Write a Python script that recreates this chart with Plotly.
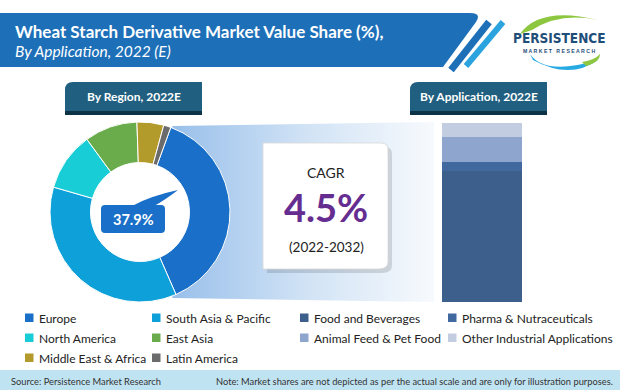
import plotly.graph_objects as go

# ---------------- data ----------------
regions = ["Europe", "South Asia & Pacific", "North America", "East Asia",
           "Middle East & Africa", "Latin America"]
region_share = [37.9, 36.0, 10.5, 9.5, 4.8, 1.3]
region_colors = ["#1a6fc8", "#0ea0d9", "#18cdd6", "#6aac4c", "#b39b2b", "#6b6b6b"]

applications = ["Food and Beverages", "Pharma & Nutraceuticals",
                "Animal Feed & Pet Food", "Other Industrial Applications"]
app_share = [73.2, 5.0, 14.0, 7.8]
app_colors = ["#3d5f8c", "#41699f", "#8ea6cd", "#c3cde2"]

highlight_label = "37.9%"
cagr_value = "4.5%"
cagr_period = "(2022-2032)"

title = "Wheat Starch Derivative Market Value Share (%),"
subtitle = "By Application, 2022 (E)"
source_text = "Source: Persistence Market Research"
note_text = "Note: Market shares are not depicted as per the actual scale and are only for illustration purposes."

# legend grid (row, col) for each entry
legend_items = [
    ("Europe", region_colors[0], 0, 0),
    ("South Asia & Pacific", region_colors[1], 0, 1),
    ("Food and Beverages", app_colors[0], 0, 2),
    ("Pharma & Nutraceuticals", app_colors[1], 0, 3),
    ("North America", region_colors[2], 1, 0),
    ("East Asia", region_colors[3], 1, 1),
    ("Animal Feed & Pet Food", app_colors[2], 1, 2),
    ("Other Industrial Applications", app_colors[3], 1, 3),
    ("Middle East & Africa", region_colors[4], 2, 0),
    ("Latin America", region_colors[5], 2, 1),
]

W, H = 620, 390
FONT = "Lato"

fig = go.Figure()

# background gradient wedge (pixel overlay axes x2/y2)
fig.add_trace(go.Scatter(
    x=[172, 434, 434, 172, 205, 172], y=[126, 122, 302, 298, 212, 126],
    xaxis="x2", yaxis="y2", mode="lines", line=dict(width=0),
    fill="toself",
    fillgradient=dict(type="horizontal",
                      colorscale=[[0, "#98bfea"], [0.5, "#d0e2f5"], [1, "#f7fafd"]]),
    hoverinfo="skip", showlegend=False))

# donut
fig.add_trace(go.Pie(
    labels=regions, values=region_share, sort=False, direction="clockwise",
    rotation=20, hole=0.55, textinfo="none",
    marker=dict(colors=region_colors, line=dict(color="white", width=1)),
    domain=dict(x=[50 / W, 230 / W], y=[(H - 302) / H, (H - 122) / H]),
    showlegend=False, hoverinfo="label+percent"))

# stacked bar
for name, val, col in zip(applications, app_share, app_colors):
    fig.add_trace(go.Bar(
        x=["App"], y=[val], name=name, marker=dict(color=col, line=dict(width=0)),
        width=1, showlegend=False, xaxis="x", yaxis="y"))

shapes = []
ann = []

def px_rect(x0, y0, x1, y1, color, layer="above", line=None):
    shapes.append(dict(type="rect", xref="x2", yref="y2", x0=x0, y0=y0, x1=x1, y1=y1,
                       fillcolor=color, line=line or dict(width=0), layer=layer))

def px_path(path, color, layer="above", line=None):
    shapes.append(dict(type="path", xref="x2", yref="y2", path=path,
                       fillcolor=color, line=line or dict(width=0), layer=layer))

def px_line(x0, y0, x1, y1, color, width):
    shapes.append(dict(type="line", xref="x2", yref="y2", x0=x0, y0=y0, x1=x1, y1=y1,
                       line=dict(color=color, width=width), layer="above"))

def text(x, y, s, size, color="#222", bold=False, xanchor="left", family=FONT, italic=False):
    if bold:
        s = "<b>" + s + "</b>"
    if italic:
        s = "<i>" + s + "</i>"
    ann.append(dict(xref="x2", yref="y2", x=x, y=y, text=s, showarrow=False,
                    xanchor=xanchor, yanchor="middle",
                    font=dict(size=size, color=color, family=family)))

# header band with rounded, slanted right end
px_path("M 0 13 L 470 13 Q 482 13 476 22 L 443 67 L 0 67 Z", "#1d6fb8")
# diagonal stripes
px_line(451, 70, 489, 22, "#1d6fb8", 7)
px_line(466, 66, 503, 22, "#2ba3de", 6)
text(13, 31, title, 17, "white", bold=True)
text(13, 51, subtitle, 15.5, "white", italic=True)

# logo
px_path("M 520 34 Q 540 6 598 20 Q 560 12 532 30 Z", "#8dc63f")
px_path("M 530 54 Q 545 76 598 60 Q 570 80 533 60 Z", "#27a9e1")
px_path("M 582 62 Q 595 60 600 54 Q 600 62 586 66 Z", "#8dc63f")
text(559, 38, "<b>PERSISTENCE</b>", 13.5, "#1f4e79", family="DejaVu Sans Condensed, Liberation Sans",
     xanchor="center")
text(559, 51, "<b>M A R K E T   R E S E A R C H</b>", 5.2, "#1f4e79",
     family="Liberation Sans", xanchor="center")

# tabs
for x0, x1, label in [(65, 202, "By Region, 2022E"), (410, 547, "By Application, 2022E")]:
    px_path(f"M {x0} 115 L {x0} 90 Q {x0} 82 {x0+8} 82 L {x1} 82 L {x1} 115 Z", "#215f80")
    px_rect(x0, 111, x1, 115, "#0c3446")
    text((x0 + x1) / 2, 96, label, 12, "white", bold=True, xanchor="center")

# CAGR card with shadow
px_path("M 267 147 L 385 147 Q 392 147 392 154 L 392 266 Q 392 273 382 273 L 267 273 Z",
        "rgba(0,0,0,0.13)")
px_path("M 263 143 L 381 143 Q 388 143 388 150 L 388 262 Q 388 269 378 269 L 263 269 Z",
        "white", line=dict(color="#d8d8d8", width=0.8))
text(326, 172, "CAGR", 14, "#222", xanchor="center")
text(326, 207, cagr_value, 38, "#662d91", bold=True, xanchor="center")
text(326, 247, cagr_period, 13.5, "#222", xanchor="center")

# highlight label in donut hole
px_path("M 132 206 Q 150 196 178 190 Q 165 200 154 206 Z", "#1a6fc8")
px_path("M 105 205 L 161 205 Q 165 205 165 209 L 165 229 Q 165 233 161 233 L 105 233 Q 101 233 101 229 L 101 209 Q 101 205 105 205 Z",
        "#1a6fc8")
text(133, 219.5, highlight_label, 14.5, "white", bold=True, xanchor="center")

# legend
col_x = [25, 152, 300, 448]
row_y = [318, 338, 358]
for name, col, r, c in legend_items:
    x = col_x[c]
    y = row_y[r]
    px_rect(x, y - 4.5, x + 8.5, y + 4, col)
    text(x + 12, y, name, 12, "#222")

# footer
px_rect(0, 370, 620, 390, "#c0e3f2", layer="below")
text(9, 381, source_text, 9.3, "#333")
text(615, 381, note_text, 9.3, "#333", xanchor="right")

fig.update_layout(
    width=W, height=H, margin=dict(l=0, r=0, t=0, b=0),
    paper_bgcolor="white", plot_bgcolor="rgba(0,0,0,0)",
    barmode="stack", bargap=0,
    xaxis=dict(domain=[442 / W, 522 / W], range=[-0.5, 0.5], visible=False, fixedrange=True),
    yaxis=dict(domain=[(H - 302) / H, (H - 123) / H], range=[0, 100], visible=False, fixedrange=True),
    xaxis2=dict(domain=[0, 1], range=[0, W], visible=False, anchor="y2", fixedrange=True),
    yaxis2=dict(domain=[0, 1], range=[H, 0], visible=False, anchor="x2", fixedrange=True),
    shapes=shapes, annotations=ann, showlegend=False,
)

fig.write_html("out.html", config={"displayModeBar": False},
               post_script="document.body.style.margin='0px';")
